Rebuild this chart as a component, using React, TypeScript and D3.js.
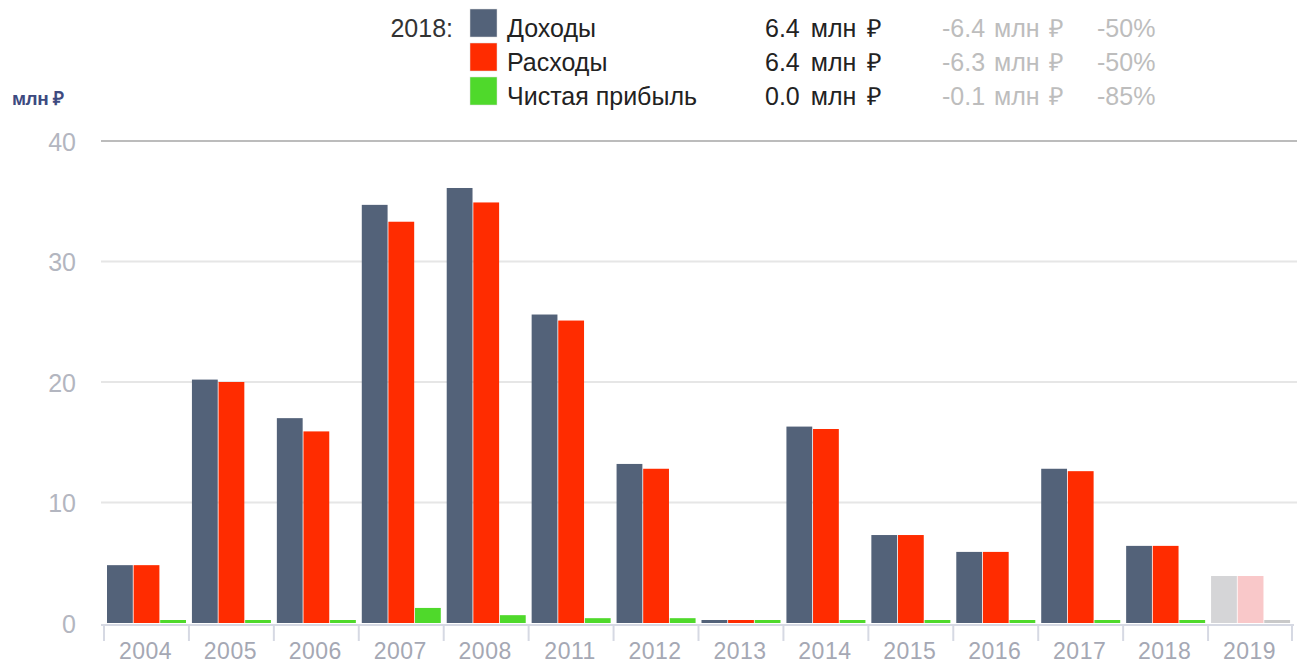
import React from 'react';
import * as d3 from 'd3';

const years = ['2004','2005','2006','2007','2008','2011','2012','2013','2014','2015','2016','2017','2018','2019'];
const income = [4.8, 20.2, 17.0, 34.7, 36.1, 25.6, 13.2, 0.2, 16.3, 7.3, 5.9, 12.8, 6.4, 3.9];
const expenses = [4.8, 20.0, 15.9, 33.3, 34.9, 25.1, 12.8, 0.2, 16.1, 7.3, 5.9, 12.6, 6.4, 3.9];
const profit = [0.1, 0.1, 0.1, 1.25, 0.65, 0.4, 0.4, 0.1, 0.1, 0.1, 0.1, 0.1, 0.1, 0.1];
const yTicks = [0, 10, 20, 30, 40];
const seriesNames = ['Доходы', 'Расходы', 'Чистая прибыль'];
const legendValues = ['6.4 млн ₽', '6.4 млн ₽', '0.0 млн ₽'];
const legendDiffs = ['-6.4 млн ₽', '-6.3 млн ₽', '-0.1 млн ₽'];
const legendPct = ['-50%', '-50%', '-85%'];
const legendYear = '2018:';
const unitLabel = 'млн ₽';

const colors = ['#536279', '#ff2c00', '#4fd92b'];
const fadedColors = ['#d5d5d7', '#f9c8c9', '#c9c9c9'];

export default function App() {
  const W = 1300, H = 664;
  const x = d3.scaleBand<string>().domain(years).range([103, 1292]).padding(0);
  const inner = d3.scaleBand<number>().domain([0, 1, 2]).range([4, 83]).paddingInner(0.03);
  const y = d3.scaleLinear().domain([0, 40]).range([623, 141]);
  const series = [income, expenses, profit];
  const font = '"Liberation Sans", Arial, sans-serif';
  const lastIdx = years.length - 1;

  return (
    <svg width={W} height={H} style={{ position: 'absolute', left: 0, top: 0, background: '#fff' }} fontFamily={font}>
      {/* grid */}
      {yTicks.filter(t => t > 0).map(t => (
        <line key={t} x1={101} x2={1297} y1={y(t)} y2={y(t)}
          stroke={t === 40 ? '#bcbcbc' : '#e6e6e6'} strokeWidth={2} />
      ))}
      {yTicks.map(t => (
        <text key={t} x={76} y={y(t) + 1} dy="0.35em" textAnchor="end" fontSize={25} fill="#b3b6c0">{t}</text>
      ))}
      <text x={12} y={105} fontSize={19} fontWeight="bold" fill="#3d4a80" letterSpacing={-0.5}>{unitLabel}</text>

      {/* bars */}
      {years.map((yr, i) => (
        <g key={yr} transform={`translate(${x(yr)},0)`}>
          {series.map((s, k) => {
            const v = s[i];
            const top = y(v);
            const h = Math.max(y(0) - top, 3);
            const fill = i === lastIdx ? fadedColors[k] : colors[k];
            return <rect key={k} x={inner(k)} y={y(0) - h} width={inner.bandwidth()} height={h} fill={fill} />;
          })}
        </g>
      ))}

      {/* x axis */}
      <line x1={101} x2={1294} y1={625} y2={625} stroke="#d6d9e3" strokeWidth={2} />
      {years.map((yr, i) => (
        <g key={yr}>
          <line x1={x(yr)! + 1} x2={x(yr)! + 1} y1={625} y2={641} stroke="#d6d9e3" strokeWidth={2} />
          {i === lastIdx && <line x1={x(yr)! + x.bandwidth()} x2={x(yr)! + x.bandwidth()} y1={625} y2={641} stroke="#d6d9e3" strokeWidth={2} />}
          <text x={x(yr)! + x.bandwidth() / 2} y={659} textAnchor="middle" fontSize={23} fill="#a5a8b4" letterSpacing={0.5}>{yr}</text>
        </g>
      ))}

      {/* legend */}
      <text x={453} y={37} textAnchor="end" fontSize={25} fill="#333">{legendYear}</text>
      {seriesNames.map((n, k) => {
        const top = [9, 43, 77][k];
        return (
          <g key={n}>
            <rect x={470} y={top} width={27} height={28} fill={colors[k]} stroke="#ddd" strokeWidth={0.5} />
            <text x={507} y={top + 28} fontSize={25} fill="#222">{n}</text>
            <text x={765} y={top + 28} fontSize={25} fill="#222" wordSpacing={4}>{legendValues[k]}</text>
            <text x={942} y={top + 28} fontSize={25} fill="#bdbdbd" wordSpacing={2}>{legendDiffs[k]}</text>
            <text x={1097} y={top + 28} fontSize={25} fill="#bdbdbd">{legendPct[k]}</text>
          </g>
        );
      })}
    </svg>
  );
}
